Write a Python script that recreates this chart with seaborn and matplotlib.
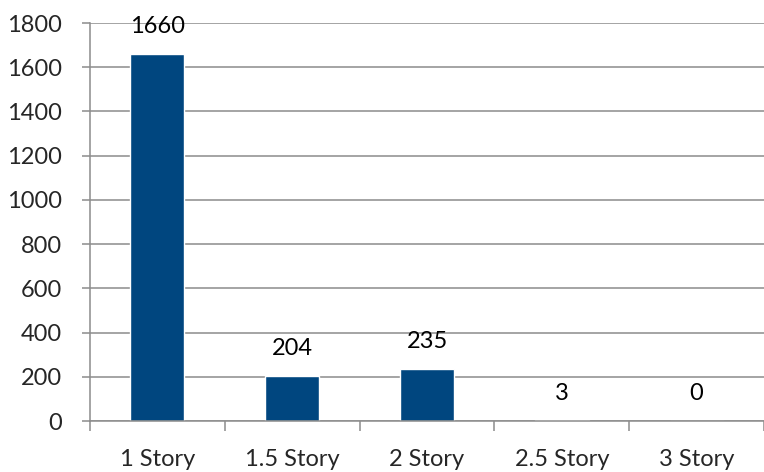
import matplotlib.pyplot as plt
import seaborn as sns
import numpy as np

stories = ["1 Story", "1.5 Story", "2 Story", "2.5 Story", "3 Story"]
counts = [1660, 204, 235, 3, 0]

sns.set_style("white")
plt.rcParams['font.family'] = ['Lato', 'DejaVu Sans']

fig = plt.figure(figsize=(7.64, 4.72), dpi=100)
ax = fig.add_axes([90 / 764, 51 / 472, 674 / 764, 398 / 472])

sns.barplot(x=stories, y=counts, color="#00467F", width=0.4, saturation=1, ax=ax)

# value labels above bars
for i, v in enumerate(counts):
    ax.annotate(str(v), (i, v), xytext=(0, 12), textcoords="offset points",
                ha="center", va="bottom", fontsize=17, color="black")

ax.set_xlim(-0.5, 4.5)
ax.set_ylim(0, 1800)
ax.set_yticks(range(0, 1801, 200))
ax.yaxis.grid(True, color="#8c8c8c", linewidth=1.1)
ax.set_axisbelow(True)

for s in ["top", "right"]:
    ax.spines[s].set_visible(False)
for s in ["left", "bottom"]:
    ax.spines[s].set_color("#8c8c8c")
    ax.spines[s].set_linewidth(1.1)

# category ticks between bars, labels centered on bars
ax.set_xticks(np.arange(-0.5, 4.6, 1), minor=True)
ax.tick_params(axis="x", which="minor", length=7, width=1.1, color="#8c8c8c", direction="out", bottom=True)
ax.tick_params(axis="x", which="major", length=0, pad=20, labelsize=17)
ax.tick_params(axis="y", length=6, width=1.1, color="#8c8c8c", direction="out", left=True, pad=14, labelsize=17)
ax.set_xlabel("")
ax.set_ylabel("")

fig.savefig("out.png", dpi=100)
